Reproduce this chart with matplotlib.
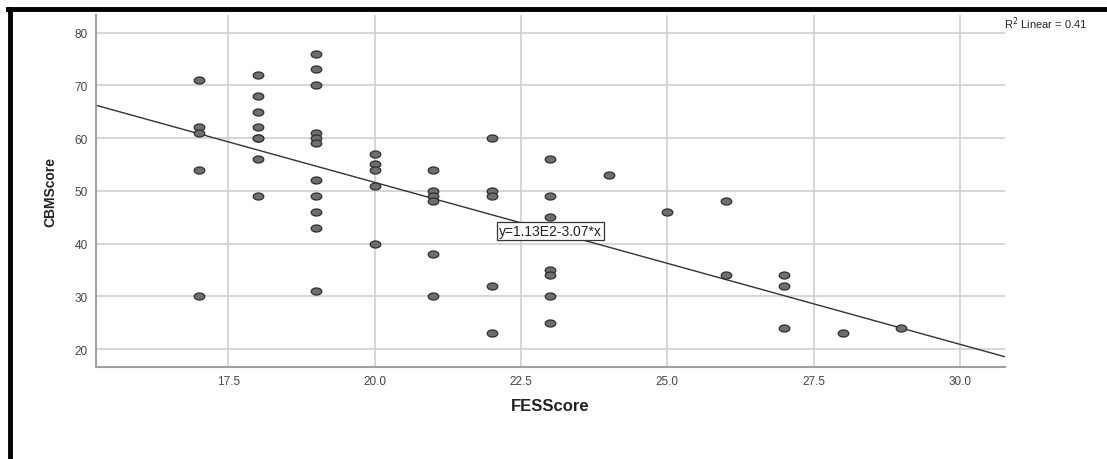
import numpy as np
import matplotlib
matplotlib.use("Agg")
import matplotlib.pyplot as plt
from matplotlib.path import Path
from matplotlib.lines import Line2D

plt.rcParams['font.family'] = ['Liberation Sans', 'DejaVu Sans']

# FESScore / CBMScore pairs
fes = [17, 17, 17, 17, 17,
       18, 18, 18, 18, 18, 18, 18, 18,
       19, 19, 19, 19, 19, 19, 19, 19, 19, 19, 19,
       20, 20, 20, 20, 20,
       21, 21, 21, 21, 21, 21,
       22, 22, 22, 22, 22,
       23, 23, 23, 23, 23, 23, 23,
       24, 25, 26, 26,
       27, 27, 27, 28, 29]
cbm = [71, 62, 61, 54, 30,
       72, 68, 65, 62, 60, 60, 56, 49,
       76, 73, 70, 61, 60, 59, 52, 49, 46, 43, 31,
       57, 55, 54, 51, 40,
       54, 50, 49, 48, 38, 30,
       60, 50, 49, 32, 23,
       56, 49, 45, 35, 34, 30, 25,
       53, 46, 48, 34,
       34, 32, 24, 23, 24]

# fit line as printed on the chart
intercept = 113.0
slope = -3.07
eq_label = "y=1.13E2-3.07*x"
r2_label = "R$^2$ Linear = 0.41"

x_ticks = [17.5, 20.0, 22.5, 25.0, 27.5, 30.0]
y_ticks = [20, 30, 40, 50, 60, 70, 80]

fig = plt.figure(figsize=(11.07, 4.6), dpi=100)
ax = fig.add_axes([0.0867, 0.2, 0.8212, 0.765])

ax.set_xlim(15.24, 30.77)
ax.set_ylim(16.6, 83.3)

# slightly wide ellipse marker, like the stretched original
t = np.linspace(0, 2 * np.pi, 40)
ell = Path(np.column_stack([1.5 * np.cos(t), np.sin(t)]), closed=True)

ax.scatter(fes, cbm, marker=ell, s=58, facecolor='#6e6e6e',
           edgecolor='#2e2e2e', linewidth=0.9, zorder=3)

xl = np.array(ax.get_xlim())
ax.plot(xl, intercept + slope * xl, color='#333333', lw=1.0, zorder=2)

ax.text(23.0, 42.3, eq_label, fontsize=10, ha='center', va='center',
        color='#222222', zorder=4,
        bbox=dict(boxstyle='square,pad=0.15', fc='white', ec='#333333', lw=0.9))

ax.set_xticks(x_ticks)
ax.set_xticklabels([f"{v:.1f}" for v in x_ticks])
ax.set_yticks(y_ticks)
ax.grid(True, color='#cfcfcf', lw=1.2)
ax.set_axisbelow(True)
for s in ['top', 'right']:
    ax.spines[s].set_visible(False)
for s in ['left', 'bottom']:
    ax.spines[s].set_color('#a0a0a0')
    ax.spines[s].set_linewidth(1.5)
ax.tick_params(axis='both', length=0, labelsize=8.5, colors='#444444', pad=6)

ax.set_xlabel("FESScore", fontsize=12, fontweight='bold', color='#222222', labelpad=8)
ax.set_ylabel("CBMScore", fontsize=10, fontweight='bold', color='#222222', labelpad=12)

fig.text(0.907, 0.948, r2_label, fontsize=8, color='#222222', ha='left', va='center')

# black frame on top and left edges
fig.add_artist(Line2D([0.007, 1.0], [0.978, 0.978], color='black', lw=3.5,
                      transform=fig.transFigure))
fig.add_artist(Line2D([0.009, 0.009], [0.0, 0.978], color='black', lw=3.5,
                      transform=fig.transFigure))

fig.savefig("out.png", dpi=100)
